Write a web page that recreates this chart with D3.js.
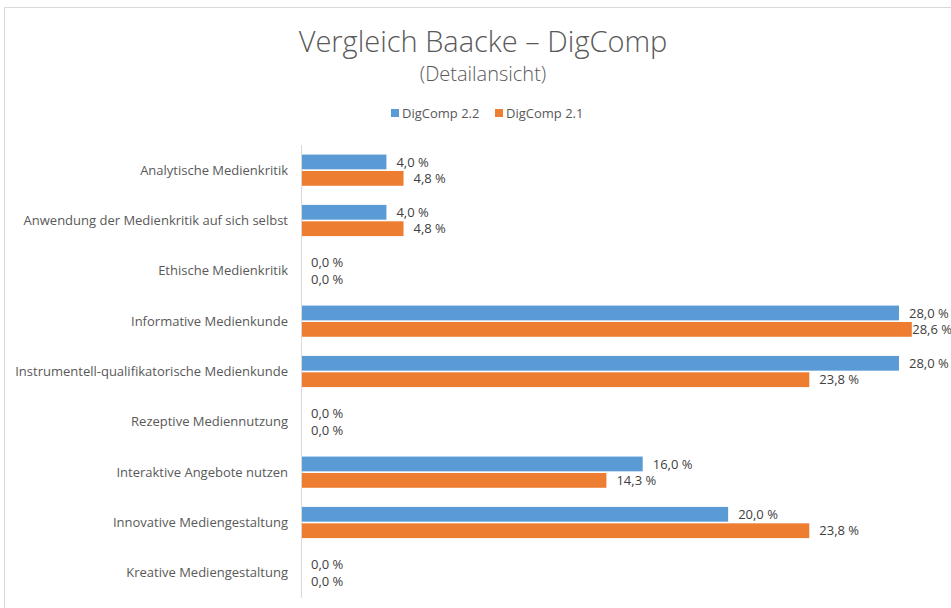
<!DOCTYPE html>
<html>
<head>
<meta charset="utf-8">
<script src="https://cdn.jsdelivr.net/npm/d3@7"></script>
<style>
  body { margin: 0; background: #fff; }
  text { font-family: "Open Sans", sans-serif; }
</style>
</head>
<body>
<div id="chart"></div>
<script>
const categories = [
  "Analytische Medienkritik",
  "Anwendung der Medienkritik auf sich selbst",
  "Ethische Medienkritik",
  "Informative Medienkunde",
  "Instrumentell-qualifikatorische Medienkunde",
  "Rezeptive Mediennutzung",
  "Interaktive Angebote nutzen",
  "Innovative Mediengestaltung",
  "Kreative Mediengestaltung"
];
const digcomp22 = [4.0, 4.0, 0.0, 28.0, 28.0, 0.0, 16.0, 20.0, 0.0];
const digcomp21 = [4.8, 4.8, 0.0, 28.6, 23.8, 0.0, 14.3, 23.8, 0.0];
const seriesNames = ["DigComp 2.2", "DigComp 2.1"];
const colors = ["#5b9bd5", "#ed7d31"];

const width = 951, height = 608;
const svg = d3.select("#chart").append("svg")
  .attr("width", width).attr("height", height);

// chart border
svg.append("path")
  .attr("d", `M4.5,${height} V7.5 H${width}`)
  .attr("fill", "none").attr("stroke", "#d9d9d9").attr("stroke-width", 1);

svg.append("text").attr("x", 483).attr("y", 52)
  .attr("text-anchor", "middle").attr("font-size", 29).attr("fill", "#595959")
  .attr("font-weight", 300)
  .text("Vergleich Baacke – DigComp");
svg.append("text").attr("x", 483).attr("y", 81)
  .attr("text-anchor", "middle").attr("font-size", 20).attr("fill", "#595959")
  .attr("font-weight", 300)
  .text("(Detailansicht)");

// legend
const legendX = [391, 495];
seriesNames.forEach((name, i) => {
  svg.append("rect").attr("x", legendX[i]).attr("y", 109).attr("width", 8).attr("height", 8)
    .attr("fill", colors[i]);
  svg.append("text").attr("x", legendX[i] + 11).attr("y", 118)
    .attr("font-size", 13).attr("fill", "#595959").text(name);
});

const x0 = 301;
const x = d3.scaleLinear().domain([0, 28]).range([x0, 899]);
const y = d3.scaleBand().domain(categories).range([145, 598]).paddingInner(0.38).paddingOuter(0.19);
const sub = d3.scaleBand().domain([0, 1]).range([0, y.bandwidth()]).paddingInner(0.1);

const fmt = v => v.toFixed(1).replace(".", ",") + " %";
const series = [digcomp22, digcomp21];

const groups = svg.selectAll(".cat").data(categories).enter().append("g")
  .attr("class", "cat")
  .attr("transform", d => `translate(0,${y(d)})`);

series.forEach((vals, s) => {
  groups.append("rect")
    .attr("x", x0)
    .attr("y", sub(s))
    .attr("width", (d, i) => x(vals[i]) - x0)
    .attr("height", sub.bandwidth())
    .attr("fill", colors[s]);
  groups.append("text")
    .attr("y", sub(s) + sub.bandwidth() / 2)
    .attr("dy", "0.35em")
    .attr("font-size", 13).attr("fill", "#404040")
    .text((d, i) => fmt(vals[i]))
    .attr("x", function (d, i) {
      // keep label inside the chart like Excel does
      const w = this.getComputedTextLength();
      return Math.min(x(vals[i]) + 10, width - w + 1);
    });
});

// category labels
svg.selectAll(".lbl").data(categories).enter().append("text")
  .attr("x", 288)
  .attr("y", d => y(d) + y.bandwidth() / 2)
  .attr("dy", "0.35em")
  .attr("text-anchor", "end")
  .attr("font-size", 13).attr("fill", "#595959")
  .text(d => d);

// vertical axis line
svg.append("line").attr("x1", x0 + 0.5).attr("x2", x0 + 0.5)
  .attr("y1", 145).attr("y2", 598)
  .attr("stroke", "#d9d9d9").attr("stroke-width", 1);
</script>
</body>
</html>
